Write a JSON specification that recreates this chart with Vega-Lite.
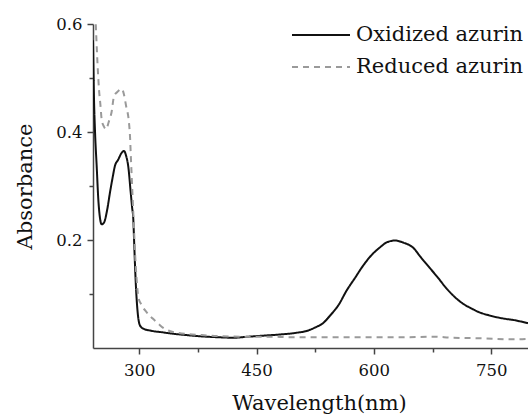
{
  "$schema": "https://vega.github.io/schema/vega-lite/v6.json",
  "autosize": "none",
  "width": 435,
  "height": 324,
  "padding": {"left": 93, "top": 24, "right": 0, "bottom": 70},
  "background": "white",
  "config": {
    "view": {"stroke": null},
    "axis": {
      "labelFont": "DejaVu Serif",
      "labelFontSize": 16.5,
      "labelColor": "#111",
      "titleFont": "DejaVu Serif",
      "titleFontSize": 21,
      "titleFontWeight": "normal",
      "titleColor": "#111",
      "domainColor": "#444",
      "domainWidth": 1.5,
      "tickColor": "#444",
      "tickWidth": 1.5,
      "grid": false
    }
  },
  "data": {
    "values": [
      {"series": "Oxidized azurin", "wl": 241, "abs": 0.57},
      {"series": "Oxidized azurin", "wl": 242.3, "abs": 0.46},
      {"series": "Oxidized azurin", "wl": 243.6, "abs": 0.40},
      {"series": "Oxidized azurin", "wl": 245.7, "abs": 0.337},
      {"series": "Oxidized azurin", "wl": 247.8, "abs": 0.275},
      {"series": "Oxidized azurin", "wl": 250, "abs": 0.24},
      {"series": "Oxidized azurin", "wl": 252, "abs": 0.229},
      {"series": "Oxidized azurin", "wl": 255, "abs": 0.232},
      {"series": "Oxidized azurin", "wl": 259, "abs": 0.255},
      {"series": "Oxidized azurin", "wl": 262.7, "abs": 0.288},
      {"series": "Oxidized azurin", "wl": 266, "abs": 0.315},
      {"series": "Oxidized azurin", "wl": 269, "abs": 0.337},
      {"series": "Oxidized azurin", "wl": 273.3, "abs": 0.349},
      {"series": "Oxidized azurin", "wl": 277, "abs": 0.36},
      {"series": "Oxidized azurin", "wl": 280.6, "abs": 0.365},
      {"series": "Oxidized azurin", "wl": 283.5, "abs": 0.355},
      {"series": "Oxidized azurin", "wl": 286, "abs": 0.337},
      {"series": "Oxidized azurin", "wl": 289.2, "abs": 0.288},
      {"series": "Oxidized azurin", "wl": 291, "abs": 0.26},
      {"series": "Oxidized azurin", "wl": 292.5, "abs": 0.239},
      {"series": "Oxidized azurin", "wl": 293.5, "abs": 0.2},
      {"series": "Oxidized azurin", "wl": 294.7, "abs": 0.153},
      {"series": "Oxidized azurin", "wl": 296, "abs": 0.11},
      {"series": "Oxidized azurin", "wl": 296.9, "abs": 0.088},
      {"series": "Oxidized azurin", "wl": 298.5, "abs": 0.06},
      {"series": "Oxidized azurin", "wl": 300.2, "abs": 0.045},
      {"series": "Oxidized azurin", "wl": 303, "abs": 0.038},
      {"series": "Oxidized azurin", "wl": 305, "abs": 0.036},
      {"series": "Oxidized azurin", "wl": 315, "abs": 0.032},
      {"series": "Oxidized azurin", "wl": 330, "abs": 0.029},
      {"series": "Oxidized azurin", "wl": 340, "abs": 0.027},
      {"series": "Oxidized azurin", "wl": 360, "abs": 0.024},
      {"series": "Oxidized azurin", "wl": 380, "abs": 0.0215},
      {"series": "Oxidized azurin", "wl": 400, "abs": 0.02},
      {"series": "Oxidized azurin", "wl": 420, "abs": 0.019},
      {"series": "Oxidized azurin", "wl": 440, "abs": 0.021},
      {"series": "Oxidized azurin", "wl": 460, "abs": 0.023},
      {"series": "Oxidized azurin", "wl": 480, "abs": 0.025},
      {"series": "Oxidized azurin", "wl": 500, "abs": 0.028},
      {"series": "Oxidized azurin", "wl": 515, "abs": 0.032},
      {"series": "Oxidized azurin", "wl": 525, "abs": 0.038},
      {"series": "Oxidized azurin", "wl": 535, "abs": 0.046},
      {"series": "Oxidized azurin", "wl": 544, "abs": 0.06},
      {"series": "Oxidized azurin", "wl": 555, "abs": 0.08},
      {"series": "Oxidized azurin", "wl": 565, "abs": 0.106},
      {"series": "Oxidized azurin", "wl": 576, "abs": 0.13},
      {"series": "Oxidized azurin", "wl": 586, "abs": 0.152},
      {"series": "Oxidized azurin", "wl": 597, "abs": 0.172},
      {"series": "Oxidized azurin", "wl": 607.5, "abs": 0.186},
      {"series": "Oxidized azurin", "wl": 617, "abs": 0.196},
      {"series": "Oxidized azurin", "wl": 627, "abs": 0.199},
      {"series": "Oxidized azurin", "wl": 638, "abs": 0.195},
      {"series": "Oxidized azurin", "wl": 650, "abs": 0.186},
      {"series": "Oxidized azurin", "wl": 660, "abs": 0.168},
      {"series": "Oxidized azurin", "wl": 671, "abs": 0.149},
      {"series": "Oxidized azurin", "wl": 682, "abs": 0.13},
      {"series": "Oxidized azurin", "wl": 693, "abs": 0.11},
      {"series": "Oxidized azurin", "wl": 703, "abs": 0.095},
      {"series": "Oxidized azurin", "wl": 714, "abs": 0.082},
      {"series": "Oxidized azurin", "wl": 725, "abs": 0.073},
      {"series": "Oxidized azurin", "wl": 735, "abs": 0.066},
      {"series": "Oxidized azurin", "wl": 746, "abs": 0.061},
      {"series": "Oxidized azurin", "wl": 757, "abs": 0.057},
      {"series": "Oxidized azurin", "wl": 768, "abs": 0.054},
      {"series": "Oxidized azurin", "wl": 778, "abs": 0.052},
      {"series": "Oxidized azurin", "wl": 788, "abs": 0.049},
      {"series": "Oxidized azurin", "wl": 797, "abs": 0.046},
      {"series": "Reduced azurin", "wl": 244, "abs": 0.62},
      {"series": "Reduced azurin", "wl": 245.7, "abs": 0.56},
      {"series": "Reduced azurin", "wl": 247, "abs": 0.52},
      {"series": "Reduced azurin", "wl": 248.7, "abs": 0.478},
      {"series": "Reduced azurin", "wl": 250.5, "abs": 0.45},
      {"series": "Reduced azurin", "wl": 252.1, "abs": 0.423},
      {"series": "Reduced azurin", "wl": 255, "abs": 0.41},
      {"series": "Reduced azurin", "wl": 257.6, "abs": 0.405},
      {"series": "Reduced azurin", "wl": 261, "abs": 0.418},
      {"series": "Reduced azurin", "wl": 264.9, "abs": 0.438},
      {"series": "Reduced azurin", "wl": 267.8, "abs": 0.466},
      {"series": "Reduced azurin", "wl": 272, "abs": 0.474},
      {"series": "Reduced azurin", "wl": 277.7, "abs": 0.48},
      {"series": "Reduced azurin", "wl": 280.5, "abs": 0.47},
      {"series": "Reduced azurin", "wl": 283.2, "abs": 0.449},
      {"series": "Reduced azurin", "wl": 287, "abs": 0.417},
      {"series": "Reduced azurin", "wl": 288.3, "abs": 0.392},
      {"series": "Reduced azurin", "wl": 289.5, "abs": 0.35},
      {"series": "Reduced azurin", "wl": 291, "abs": 0.30},
      {"series": "Reduced azurin", "wl": 292.5, "abs": 0.25},
      {"series": "Reduced azurin", "wl": 294, "abs": 0.2},
      {"series": "Reduced azurin", "wl": 295.5, "abs": 0.155},
      {"series": "Reduced azurin", "wl": 296.9, "abs": 0.125},
      {"series": "Reduced azurin", "wl": 299, "abs": 0.094},
      {"series": "Reduced azurin", "wl": 303, "abs": 0.08},
      {"series": "Reduced azurin", "wl": 309.7, "abs": 0.066},
      {"series": "Reduced azurin", "wl": 317, "abs": 0.055},
      {"series": "Reduced azurin", "wl": 324.5, "abs": 0.045},
      {"series": "Reduced azurin", "wl": 332, "abs": 0.036},
      {"series": "Reduced azurin", "wl": 340, "abs": 0.031},
      {"series": "Reduced azurin", "wl": 350, "abs": 0.028},
      {"series": "Reduced azurin", "wl": 360, "abs": 0.026},
      {"series": "Reduced azurin", "wl": 380, "abs": 0.024},
      {"series": "Reduced azurin", "wl": 400, "abs": 0.022},
      {"series": "Reduced azurin", "wl": 430, "abs": 0.021},
      {"series": "Reduced azurin", "wl": 460, "abs": 0.021},
      {"series": "Reduced azurin", "wl": 500, "abs": 0.020},
      {"series": "Reduced azurin", "wl": 550, "abs": 0.020},
      {"series": "Reduced azurin", "wl": 600, "abs": 0.020},
      {"series": "Reduced azurin", "wl": 640, "abs": 0.020},
      {"series": "Reduced azurin", "wl": 676, "abs": 0.021},
      {"series": "Reduced azurin", "wl": 700, "abs": 0.019},
      {"series": "Reduced azurin", "wl": 740, "abs": 0.018},
      {"series": "Reduced azurin", "wl": 778, "abs": 0.016},
      {"series": "Reduced azurin", "wl": 797, "abs": 0.017}
    ]
  },
  "mark": {"type": "line", "clip": true, "interpolate": "monotone"},
  "encoding": {
    "x": {
      "field": "wl",
      "type": "quantitative",
      "scale": {"domain": [241, 797], "nice": false, "zero": false},
      "axis": {
        "title": "Wavelength(nm)",
        "values": [300, 375, 450, 525, 600, 675, 750],
        "labelExpr": "datum.value % 150 === 0 ? datum.label : ''",
        "tickSize": {"expr": "datum.value % 150 === 0 ? 6 : 4"},
        "labelPadding": 8,
        "titlePadding": 14,
        "titleX": 226
      }
    },
    "y": {
      "field": "abs",
      "type": "quantitative",
      "scale": {"domain": [0, 0.6], "nice": false},
      "axis": {
        "title": "Absorbance",
        "values": [0.1, 0.2, 0.3, 0.4, 0.5, 0.6],
        "labelExpr": "round(datum.value * 10) % 2 === 0 ? format(datum.value, '.1f') : ''",
        "tickSize": {"expr": "round(datum.value * 10) % 2 === 0 ? 6 : 4"},
        "labelPadding": 5,
        "titlePadding": 20
      }
    },
    "color": {
      "field": "series",
      "type": "nominal",
      "scale": {"domain": ["Oxidized azurin", "Reduced azurin"], "range": ["#111111", "#9a9a9a"]},
      "legend": {
        "title": null,
        "orient": "none",
        "legendX": 198,
        "legendY": -5,
        "symbolType": "stroke",
        "symbolSize": 3364,
        "symbolStrokeWidth": 2,
        "labelFont": "DejaVu Serif",
        "labelFontSize": 21,
        "labelColor": "#111",
        "labelOffset": 5,
        "rowPadding": 0,
        "clipHeight": 32,
        "labelLimit": 300
      }
    },
    "strokeDash": {
      "field": "series",
      "type": "nominal",
      "scale": {"domain": ["Oxidized azurin", "Reduced azurin"], "range": [[1, 0], [6, 5]]},
      "legend": {
        "title": null,
        "orient": "none",
        "legendX": 198,
        "legendY": -5,
        "symbolType": "stroke",
        "symbolSize": 3364,
        "symbolStrokeWidth": 2,
        "labelFont": "DejaVu Serif",
        "labelFontSize": 21,
        "labelColor": "#111",
        "labelOffset": 5,
        "rowPadding": 0,
        "clipHeight": 32,
        "labelLimit": 300
      }
    },
    "strokeWidth": {"value": 2}
  }
}
